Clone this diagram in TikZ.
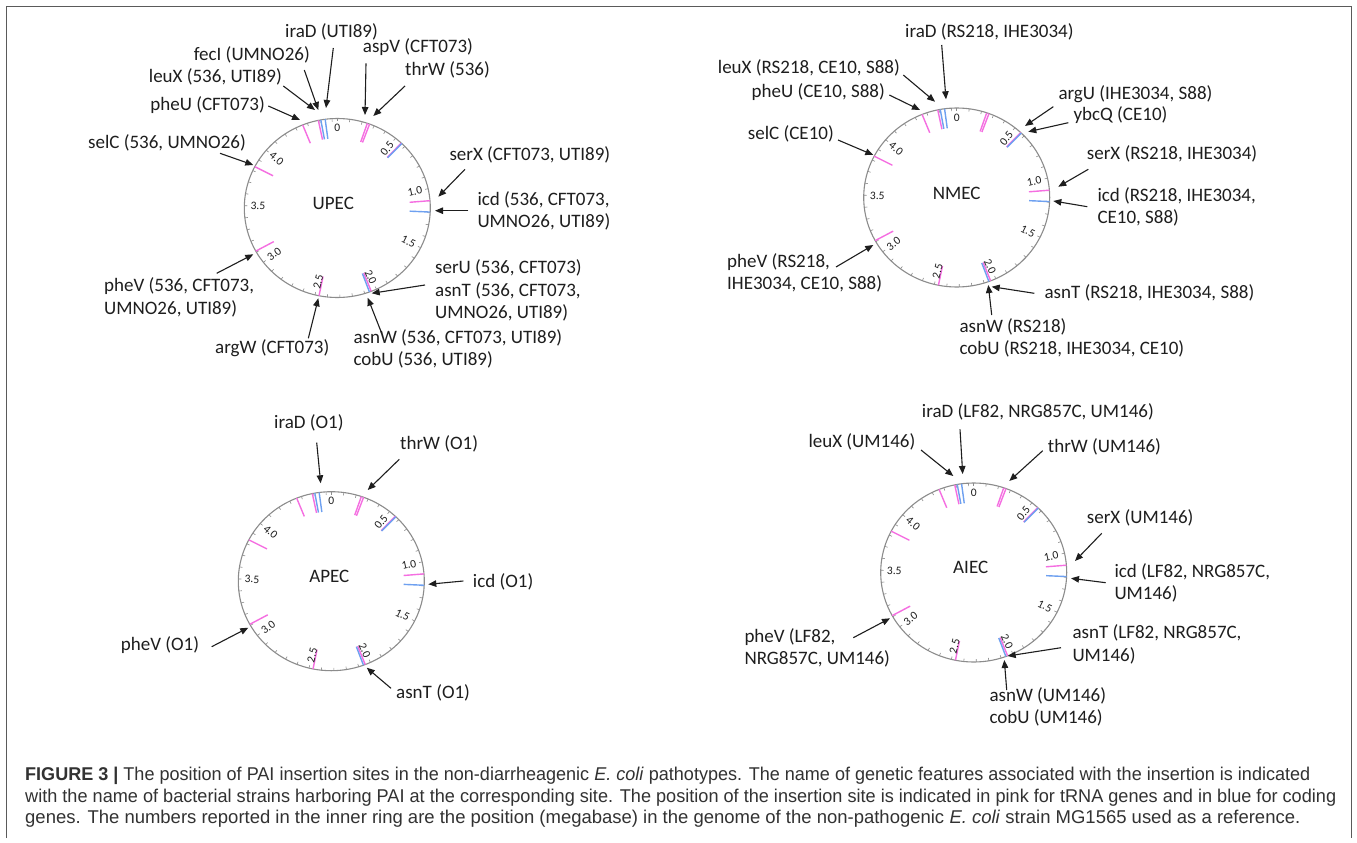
\documentclass[tikz,border=0pt]{standalone}
\usepackage{fontspec}
\usepackage{graphicx}
\setmainfont{Carlito}
\newfontfamily\capfont{Liberation Sans}
\usetikzlibrary{arrows.meta}
\definecolor{pinkm}{RGB}{245,110,225}
\definecolor{bluem}{RGB}{110,160,240}
\definecolor{ringgray}{RGB}{140,140,140}
\definecolor{txt}{RGB}{30,30,30}
\definecolor{captxt}{RGB}{50,50,50}
\definecolor{framecol}{RGB}{90,90,90}
\tikzset{
 lab/.style={font=\fontsize{19}{22.5}\selectfont, inner sep=0pt, text=txt, align=left},
 ctr/.style={font=\fontsize{19}{22}\selectfont, inner sep=0pt, text=txt},
 num/.style={font=\fontsize{11.5}{12}\selectfont, inner sep=0.5pt, text=txt},
 arr/.style={-{Triangle[length=8pt,width=6.5pt]}, line width=1.1pt, draw=txt},
 ringline/.style={draw=ringgray, line width=1.1pt},
 tickline/.style={draw=ringgray, line width=0.6pt},
 pmark/.style={draw=pinkm, line width=1.4pt},
 bmark/.style={draw=bluem, line width=1.4pt},
 framel/.style={draw=framecol, line width=1.2pt},
 capline/.style={font=\capfont\fontsize{18.5}{22}\selectfont, inner sep=0pt, text=captxt, anchor=west},
}
\newcommand\genring[3]{%
\begin{scope}[shift={(#1,#2)}]
 \draw[ringline] (0,0) ellipse [x radius=93, y radius=89.5];
 \foreach \i in {0,...,46}{%
   \pgfmathsetmacro\a{\i*7.7558}
   \draw[tickline] ({93*sin(\a)},{-89.5*cos(\a)}) -- ({90*sin(\a)},{-86.6*cos(\a)});}
 \foreach \m/\c in {4.36/pmark, 4.49/pmark, 4.51/bmark, 4.545/bmark, 0.243/pmark, 0.262/pmark, 0.561/pmark, 0.567/bmark, 1.10/pmark, 1.194/bmark, 2.045/pmark, 2.06/bmark, 2.467/pmark, 3.11/pmark, 3.836/pmark}{%
   \pgfmathsetmacro\a{\m*77.558}
   \draw[\c] ({93*sin(\a)},{-89.5*cos(\a)}) -- ({72.5*sin(\a)},{-69.8*cos(\a)});}
 \node[num,anchor=north] (#3-n0) at (0,-84.5) {0};
 \foreach \m/\r/\an [count=\k] in {0.5/51.2/east, 1.0/12.4/east, 1.5/-26.3/east, 2.0/-65.1/east, 2.5/76.1/west, 3.0/37.3/west, 3.5/-1.5/west, 4.0/-40.2/west}{%
   \pgfmathsetmacro\a{\m*77.558}
   \node[num, rotate=\r, anchor=\an] (#3-n\k) at ({87.4*sin(\a)},{-84.1*cos(\a)}) {\m};}
\end{scope}}
\newcommand\garr[3]{\coordinate (#1-s) at (#2); \coordinate (#1-e) at (#3); \draw[arr] (#1-s) -- (#1-e);}
\begin{document}
\begin{tikzpicture}[x=1pt,y=-1pt]
\useasboundingbox (0,0) rectangle (1357,843);
\fill[white] (0,0) rectangle (1357,843);
\draw[framel] (6.5,838) -- (6.5,6.5) -- (1351.5,6.5) -- (1351.5,838);

% ---------- UPEC ----------
\genring{337.3}{208}{upec}
\node[ctr] (upec-lab) at (333.3,203.3) {UPEC};
\node[lab,anchor=west] (u-iraD) at (285,32) {iraD (UTI89)};
\node[lab,anchor=east] (u-fecI) at (310,55) {fecI (UMNO26)};
\node[lab,anchor=east] (u-leuX) at (282,77.3) {leuX (536, UTI89)};
\node[lab,anchor=east] (u-pheU) at (265,105) {pheU (CFT073)};
\node[lab,anchor=east] (u-selC) at (246,143.3) {selC (536, UMNO26)};
\node[lab,anchor=west] (u-aspV) at (362.7,46.7) {aspV (CFT073)};
\node[lab,anchor=west] (u-thrW) at (405,70) {thrW (536)};
\node[lab,anchor=west] (u-serX) at (449.3,155) {serX (CFT073, UTI89)};
\node[lab,anchor=west] (u-icd) at (477.3,210.8) {icd (536, CFT073,\\UMNO26, UTI89)};
\node[lab,anchor=west] (u-serU) at (435,290.5) {serU (536, CFT073)\\asnT (536, CFT073,\\UMNO26, UTI89)};
\node[lab,anchor=west] (u-asnW) at (353.3,348.7) {asnW (536, CFT073, UTI89)\\cobU (536, UTI89)};
\node[lab,anchor=west] (u-argW) at (215,348.3) {argW (CFT073)};
\node[lab,anchor=west] (u-pheV) at (104,297.5) {pheV (536, CFT073,\\UMNO26, UTI89)};
\garr{ua1}{333.3,48}{326,108}
\garr{ua2}{304.3,70}{318.3,110}
\garr{ua3}{283.3,86}{315,110}
\garr{ua4}{268.3,106}{300,120}
\garr{ua5}{220,153.3}{253.3,165}
\garr{ua6}{366,63.3}{365,115}
\garr{ua7}{405,86}{373.3,116}
\garr{ua8}{465,169.3}{438.3,196.7}
\garr{ua9}{468.3,210.7}{435,210.7}
\garr{ua10}{425,285}{371.7,293.3}
\garr{ua11}{381.7,333.3}{367.7,297.7}
\garr{ua12}{308.3,338.3}{318.3,298.3}
\garr{ua13}{216.7,273.3}{253.3,254.3}

% ---------- NMEC ----------
\genring{956.7}{197.5}{nmec}
\node[ctr] (nmec-lab) at (956.7,193.3) {NMEC};
\node[lab,anchor=west] (n-iraD) at (905,31.7) {iraD (RS218, IHE3034)};
\node[lab,anchor=east] (n-leuX) at (900,68.3) {leuX (RS218, CE10, S88)};
\node[lab,anchor=east] (n-pheU) at (885,91.7) {pheU (CE10, S88)};
\node[lab,anchor=east] (n-selC) at (834,134) {selC (CE10)};
\node[lab,anchor=west] (n-argU) at (1058.3,94) {argU (IHE3034, S88)};
\node[lab,anchor=west] (n-ybcQ) at (1073.3,115) {ybcQ (CE10)};
\node[lab,anchor=west] (n-serX) at (1086.7,154) {serX (RS218, IHE3034)};
\node[lab,anchor=west] (n-icd) at (1097.3,206.7) {icd (RS218, IHE3034,\\CE10, S88)};
\node[lab,anchor=west] (n-asnT) at (1044.3,292.7) {asnT (RS218, IHE3034, S88)};
\node[lab,anchor=west] (n-asnW) at (959.3,337.7) {asnW (RS218)\\cobU (RS218, IHE3034, CE10)};
\node[lab,anchor=west] (n-pheV) at (727,273) {pheV (RS218,\\IHE3034, CE10, S88)};
\garr{na1}{941.7,45}{946,99.3}
\garr{na2}{903.3,75}{935,101.7}
\garr{na3}{889.3,95}{920,110}
\garr{na4}{838,140}{873.3,155}
\garr{na5}{1053.3,106.7}{1025,126}
\garr{na6}{1068.3,122.7}{1028.3,131.7}
\garr{na7}{1088.3,169.3}{1058.3,186.7}
\garr{na8}{1087.3,206.7}{1053.3,201}
\garr{na9}{1034.3,293.3}{991.7,286.7}
\garr{na10}{991.7,315}{988.3,285}
\garr{na11}{836,267}{873.3,245}

% ---------- APEC ----------
\genring{331.3}{581.2}{apec}
\node[ctr] (apec-lab) at (329.3,576.7) {APEC};
\node[lab,anchor=west] (a-iraD) at (274,422.7) {iraD (O1)};
\node[lab,anchor=west] (a-thrW) at (400,444) {thrW (O1)};
\node[lab,anchor=west] (a-icd) at (472.7,581.7) {icd (O1)};
\node[lab,anchor=west] (a-pheV) at (120.7,645) {pheV (O1)};
\node[lab,anchor=west] (a-asnT) at (396,693.3) {asnT (O1)};
\garr{aa1}{316.7,442.7}{320.7,483.3}
\garr{aa2}{399.3,459.3}{367.7,490}
\garr{aa3}{463.3,581}{428.3,584.3}
\garr{aa4}{211.7,646.7}{248.3,627.7}
\garr{aa5}{391,688.3}{366.7,667.7}

% ---------- AIEC ----------
\genring{973.7}{572.5}{aiec}
\node[ctr] (aiec-lab) at (970.7,567.3) {AIEC};
\node[lab,anchor=west] (i-iraD) at (921.7,411.7) {iraD (LF82, NRG857C, UM146)};
\node[lab,anchor=west] (i-leuX) at (808.3,441.7) {leuX (UM146)};
\node[lab,anchor=west] (i-thrW) at (1047.7,447.3) {thrW (UM146)};
\node[lab,anchor=west] (i-serX) at (1086.7,518.3) {serX (UM146)};
\node[lab,anchor=west] (i-icd) at (1114.3,582.8) {icd (LF82, NRG857C,\\UM146)};
\node[lab,anchor=west] (i-asnT) at (1072.3,644.2) {asnT (LF82, NRG857C,\\UM146)};
\node[lab,anchor=west] (i-asnW) at (989.3,706.7) {asnW (UM146)\\cobU (UM146)};
\node[lab,anchor=west] (i-pheV) at (744.3,648) {pheV (LF82,\\NRG857C, UM146)};
\garr{ia1}{960,429.3}{962.7,474}
\garr{ia2}{921,450}{953.3,476}
\garr{ia3}{1042.7,450.7}{1009.3,481}
\garr{ia4}{1101.7,533.3}{1075,561}
\garr{ia5}{1105.7,582.7}{1071,578.3}
\garr{ia6}{1061,647.7}{1007.7,656}
\garr{ia7}{1006.7,690}{1004.3,660}
\garr{ia8}{853.3,637.7}{890,618.3}

% ---------- caption ----------
\node[capline] (cap1) at (25,776) {\resizebox{1285pt}{\height}{\textbf{FIGURE 3 |} The position of PAI insertion sites in the non-diarrheagenic \textit{E. coli} pathotypes. The name of genetic features associated with the insertion is indicated}};
\node[capline] (cap2) at (25,797.5) {\resizebox{1311pt}{\height}{with the name of bacterial strains harboring PAI at the corresponding site. The position of the insertion site is indicated in pink for tRNA genes and in blue for coding}};
\node[capline] (cap3) at (25,819) {\resizebox{1275pt}{\height}{genes. The numbers reported in the inner ring are the position (megabase) in the genome of the non-pathogenic \textit{E. coli} strain MG1565 used as a reference.}};
\end{tikzpicture}
\end{document}
